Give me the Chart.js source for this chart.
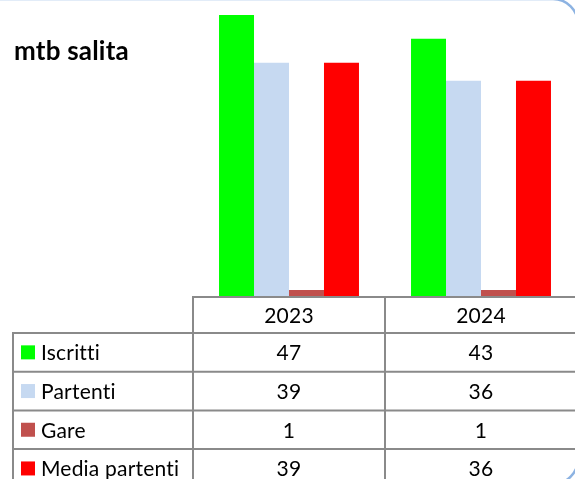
<!DOCTYPE html>
<html>
<head>
<meta charset="utf-8">
<script src="https://cdn.jsdelivr.net/npm/chart.js@4"></script>
<style>
html, body { margin: 0; padding: 0; background: #fff; overflow: hidden; }
#wrap { position: relative; width: 577px; height: 479px; }
</style>
</head>
<body>
<div id="wrap"><canvas id="c"></canvas></div>
<script>
const years = ['2023', '2024'];
const seriesNames = ['Iscritti', 'Partenti', 'Gare', 'Media partenti'];
const iscritti = [47, 43];
const partenti = [39, 36];
const gare = [1, 1];
const mediaPartenti = [39, 36];
const colors = ['#00ff00', '#c6d9f1', '#c0504d', '#ff0000'];
const allSeries = [iscritti, partenti, gare, mediaPartenti];

const FONT = 'Lato, "Open Sans", sans-serif';
const TBL_TOP = 297;
const HEAD_BOTTOM = 333;
const ROW_H = 38.7;
const LEFT_X = 13;

// data table under the bars, like Excel's "data table with legend keys"
const tablePlugin = {
    id: 'dataTable',
    afterDraw(chart) {
        const ctx = chart.ctx;
        const xs = chart.scales.x;
        const half = (xs.getPixelForValue(1) - xs.getPixelForValue(0)) / 2;
        const colLeft = xs.getPixelForValue(0) - half;
        const W = chart.width, H = chart.height;
        ctx.save();
        ctx.strokeStyle = '#8a8a8a';
        ctx.lineWidth = 2;
        ctx.beginPath();
        ctx.moveTo(colLeft, TBL_TOP); ctx.lineTo(W, TBL_TOP);
        for (let i = 0; i < seriesNames.length; i++) {
            const y = HEAD_BOTTOM + i * ROW_H;
            ctx.moveTo(LEFT_X, y); ctx.lineTo(W, y);
        }
        ctx.moveTo(LEFT_X, HEAD_BOTTOM - 1); ctx.lineTo(LEFT_X, H);
        for (let k = 0; k <= years.length; k++) {
            const x = colLeft + k * 2 * half;
            ctx.moveTo(x, TBL_TOP - 1); ctx.lineTo(x, H);
        }
        ctx.stroke();

        // tiny spacing keeps Lato from using its tt / ti ligatures
        ctx.letterSpacing = '0.2px';
        ctx.fillStyle = '#000';
        ctx.font = '21px ' + FONT;
        ctx.textBaseline = 'middle';
        ctx.textAlign = 'center';
        years.forEach((y, i) => {
            ctx.fillText(y, xs.getPixelForValue(i), (TBL_TOP + HEAD_BOTTOM) / 2 + 1);
        });
        allSeries.forEach((vals, r) => {
            const cy = HEAD_BOTTOM + r * ROW_H + ROW_H / 2 + 1;
            vals.forEach((v, i) => {
                ctx.fillStyle = '#000';
                ctx.textAlign = 'center';
                ctx.fillText(String(v), xs.getPixelForValue(i), cy);
            });
            ctx.fillStyle = colors[r];
            ctx.fillRect(21, cy - 8, 14, 14);
            ctx.fillStyle = '#000';
            ctx.textAlign = 'left';
            ctx.fillText(seriesNames[r], 41, cy);
        });

        // title
        ctx.font = 'bold 26px ' + FONT;
        ctx.textBaseline = 'alphabetic';
        ctx.fillText('mtb salita', 14, 60);

        // rounded chart border, only the corners show
        ctx.strokeStyle = '#8db3e2';
        ctx.lineWidth = 2.5;
        ctx.beginPath();
        ctx.roundRect(-40, -1, 618, 485, 25);
        ctx.stroke();
        ctx.restore();
    }
};

new Chart(document.getElementById('c'), {
    type: 'bar',
    data: {
        labels: years,
        datasets: seriesNames.map((name, i) => ({
            label: name,
            data: allSeries[i],
            backgroundColor: colors[i],
            borderWidth: 0,
            barPercentage: 1,
            categoryPercentage: 0.729
        }))
    },
    plugins: [tablePlugin],
    options: {
        responsive: true,
        maintainAspectRatio: false,
        animation: false,
        layout: { padding: { left: 193, right: 0, top: 0, bottom: 183 } },
        plugins: {
            legend: { display: false },
            tooltip: { enabled: false }
        },
        scales: {
            x: { display: false },
            y: { display: false, min: 0, max: 49.5 }
        }
    }
});
</script>
</body>
</html>
